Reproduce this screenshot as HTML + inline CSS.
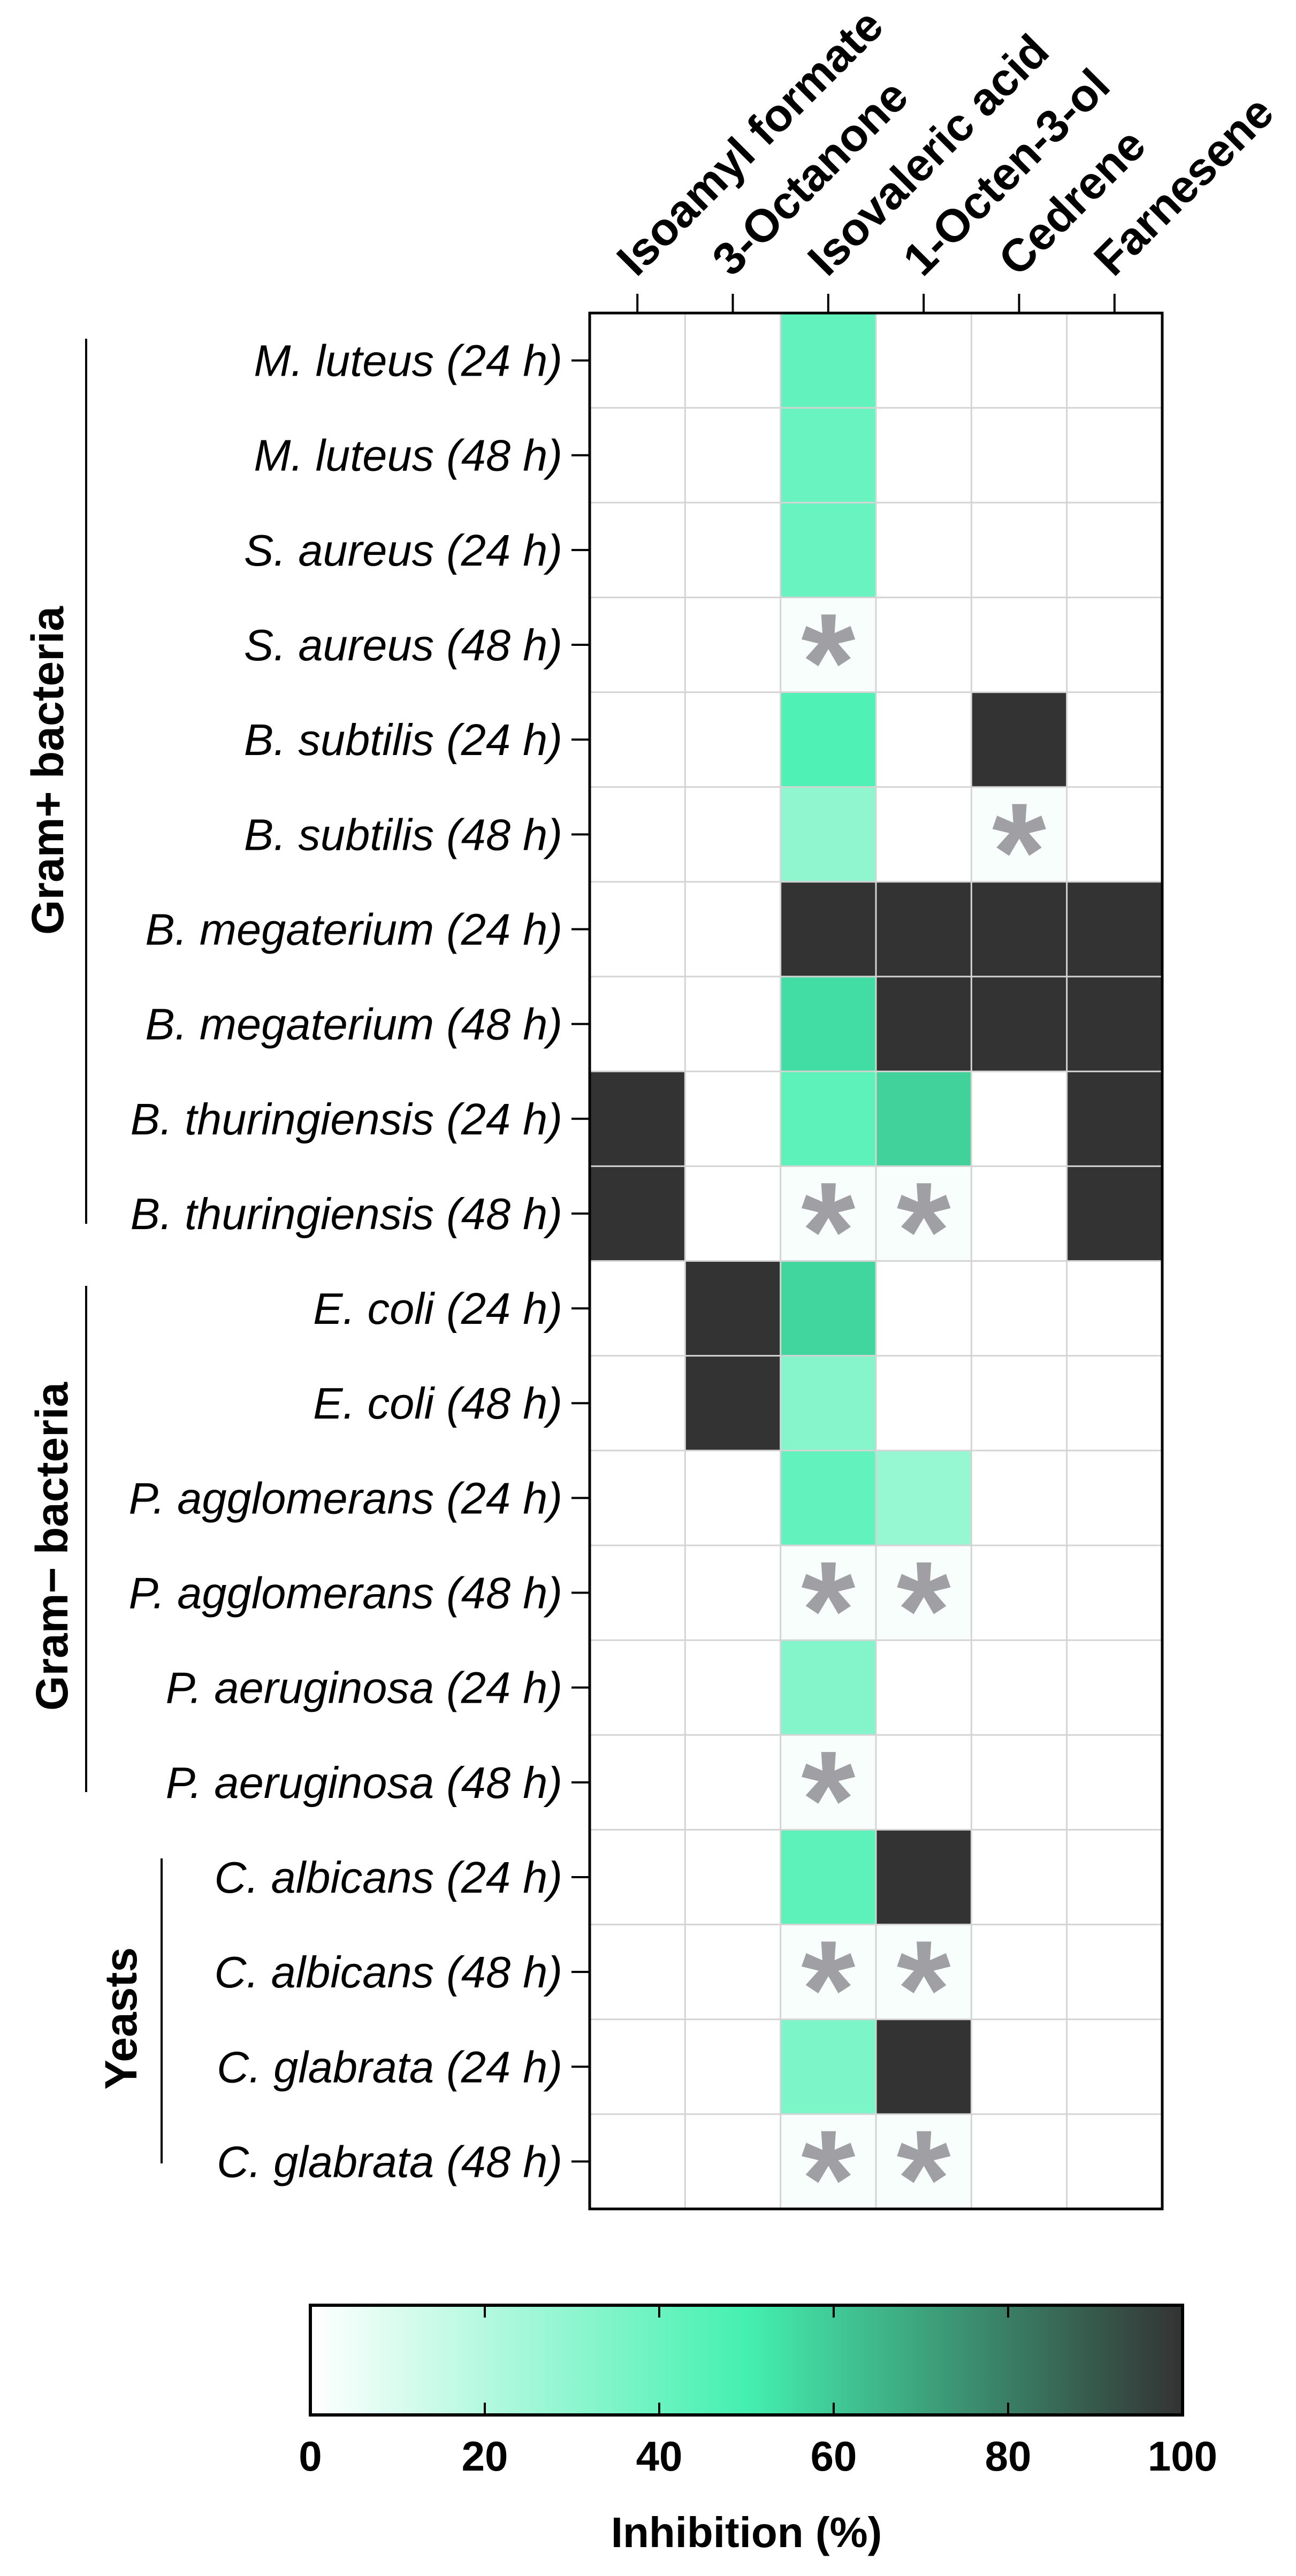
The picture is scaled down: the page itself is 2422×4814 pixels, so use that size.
<!DOCTYPE html>
<html><head><meta charset="utf-8"><style>
html,body{margin:0;padding:0;background:#fff}
svg{display:block}
text{font-family:"Liberation Sans",Arial,sans-serif}
</style></head><body>
<svg id="chart" width="2422" height="4814" viewBox="0 0 2422 4814" xmlns="http://www.w3.org/2000/svg">
<defs>
<linearGradient id="cmap" x1="0" x2="1" y1="0" y2="0">
<stop offset="0" stop-color="#ffffff"/>
<stop offset="0.5" stop-color="#44f0b0"/>
<stop offset="1" stop-color="#333333"/>
</linearGradient>
</defs>
<g id="cells"></g>
<g id="grid"></g>
<g id="stars"></g>
<rect x="1102" y="585" width="1070" height="3543" fill="none" stroke="#000" stroke-width="5"/>
<g id="xaxis"></g>
<g id="yaxis"></g>
<g stroke="#000" stroke-width="4">
<line x1="161" y1="633" x2="161" y2="2287"/>
<line x1="161" y1="2403" x2="161" y2="3349"/>
<line x1="302" y1="3473" x2="302" y2="4043"/>
</g>
<text transform="translate(118,1440) rotate(-90)" text-anchor="middle" font-size="84" font-weight="bold">Gram+ bacteria</text>
<text transform="translate(126,2890) rotate(-90)" text-anchor="middle" font-size="84" font-weight="bold">Gram− bacteria</text>
<text transform="translate(255,3772) rotate(-90)" text-anchor="middle" font-size="84" font-weight="bold">Yeasts</text>
<g id="colorbar">
<rect x="580" y="4308" width="1630" height="205" fill="url(#cmap)" stroke="#000" stroke-width="6"/>
</g>
<text x="1395" y="4760" text-anchor="middle" font-size="80" font-weight="bold">Inhibition (%)</text>
</svg>
<script>
const compounds = ["Isoamyl formate","3-Octanone","Isovaleric acid","1-Octen-3-ol","Cedrene","Farnesene"];
const strains = ["M. luteus (24 h)","M. luteus (48 h)","S. aureus (24 h)","S. aureus (48 h)","B. subtilis (24 h)","B. subtilis (48 h)","B. megaterium (24 h)","B. megaterium (48 h)","B. thuringiensis (24 h)","B. thuringiensis (48 h)","E. coli (24 h)","E. coli (48 h)","P. agglomerans (24 h)","P. agglomerans (48 h)","P. aeruginosa (24 h)","P. aeruginosa (48 h)","C. albicans (24 h)","C. albicans (48 h)","C. glabrata (24 h)","C. glabrata (48 h)"];
const inhibition = [
[0,0,42,0,0,0],
[0,0,40,0,0,0],
[0,0,40,0,0,0],
[0,0,2,0,0,0],
[0,0,47,0,100,0],
[0,0,30,0,2,0],
[0,0,100,100,100,100],
[0,0,55,100,100,100],
[100,0,43,58,0,100],
[100,0,2,2,0,100],
[0,100,57,0,0,0],
[0,100,32,0,0,0],
[0,0,42,28,0,0],
[0,0,2,2,0,0],
[0,0,33,0,0,0],
[0,0,2,0,0,0],
[0,0,43,100,0,0],
[0,0,2,2,0,0],
[0,0,35,100,0,0],
[0,0,2,2,0,0]];
const significant = [
[0,0,0,0,0,0],[0,0,0,0,0,0],[0,0,0,0,0,0],[0,0,1,0,0,0],[0,0,0,0,0,0],[0,0,0,0,1,0],
[0,0,0,0,0,0],[0,0,0,0,0,0],[0,0,0,0,0,0],[0,0,1,1,0,0],[0,0,0,0,0,0],[0,0,0,0,0,0],
[0,0,0,0,0,0],[0,0,1,1,0,0],[0,0,0,0,0,0],[0,0,1,0,0,0],[0,0,0,0,0,0],[0,0,1,1,0,0],
[0,0,0,0,0,0],[0,0,1,1,0,0]];
const cbTicks = [0,20,40,60,80,100];

const NS="http://www.w3.org/2000/svg";
const X0=1102,X1=2172,Y0=585,Y1=4128;
const cw=(X1-X0)/compounds.length, rh=(Y1-Y0)/strains.length;
const xs=i=>X0+i*cw, ys=j=>Y0+j*rh;
const CB0=580,CB1=2210;
const cbx=v=>CB0+(v/100)*(CB1-CB0);
function mk(tag,attrs,parent){const e=document.createElementNS(NS,tag);for(const k in attrs)e.setAttribute(k,attrs[k]);parent.appendChild(e);return e;}
function lerp(a,b,t){return a.map((v,i)=>Math.round(v+(b[i]-v)*t));}
function color(v){const t=v/100;let c;
 if(t<=0.5)c=lerp([255,255,255],[68,240,176],t/0.5);else c=lerp([68,240,176],[51,51,51],(t-0.5)/0.5);
 return `rgb(${c[0]},${c[1]},${c[2]})`;}
const gC=document.getElementById('cells'),gG=document.getElementById('grid'),gS=document.getElementById('stars');
const gX=document.getElementById('xaxis'),gY=document.getElementById('yaxis'),gCB=document.getElementById('colorbar');
strains.forEach((s,j)=>{compounds.forEach((c,i)=>{
 const r=mk('rect',{x:xs(i),y:ys(j),width:cw,height:rh,fill:color(inhibition[j][i])},gC);
 
 
 if(significant[j][i]){
  const t=mk('text',{x:xs(i)+cw/2,y:ys(j)+rh/2+0.47*260,'text-anchor':'middle','font-size':260,'font-weight':'bold',fill:'#a0a0a4'},gS);
  t.textContent='*';
  
  
 }
});});
for(let i=1;i<compounds.length;i++){const l=mk('line',{x1:xs(i),y1:Y0,x2:xs(i),y2:Y1,stroke:'#d4d4d4','stroke-width':3},gG);
 
 }
for(let j=1;j<strains.length;j++){const l=mk('line',{x1:X0,y1:ys(j),x2:X1,y2:ys(j),stroke:'#d4d4d4','stroke-width':3},gG);
 
 }
compounds.forEach((c,i)=>{const x=xs(i)+cw/2;
 const tk=mk('line',{x1:x,y1:Y0,x2:x,y2:Y0-36,stroke:'#000','stroke-width':4},gX);
 
 
 const t=mk('text',{transform:`translate(${x-2},520) rotate(-45)`,'font-size':86,'font-weight':'bold'},gX);
 t.textContent=c;
 
 });
strains.forEach((s,j)=>{const y=ys(j)+rh/2;
 const tk=mk('line',{x1:X0,y1:y,x2:X0-34,y2:y,stroke:'#000','stroke-width':4},gY);
 
 
 const t=mk('text',{x:1051,y:y+29,'text-anchor':'end','font-size':83,'font-style':'italic'},gY);
 t.textContent=s;
 
 });
cbTicks.forEach(v=>{const x=cbx(v);
 if(v>0&&v<100){
  const a=mk('line',{x1:x,y1:4308,x2:x,y2:4331,stroke:'#000','stroke-width':4},gCB);
  
  
  const b=mk('line',{x1:x,y1:4513,x2:x,y2:4490,stroke:'#000','stroke-width':4},gCB);
  
  }
 const t=mk('text',{x:x,y:4617,'text-anchor':'middle','font-size':78,'font-weight':'bold'},gCB);
 t.textContent=v;
 
 });
</script>
</body></html>
